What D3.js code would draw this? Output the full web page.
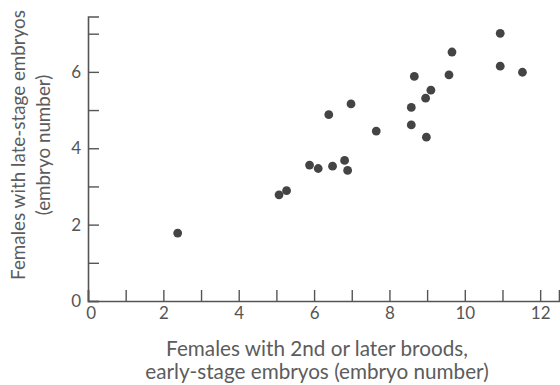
<!DOCTYPE html>
<html>
<head>
<meta charset="utf-8">
<script src="https://cdn.jsdelivr.net/npm/d3@7"></script>
<style>
  body { margin: 0; background: #fff; }
  text { font-family: Lato, "Open Sans", sans-serif; fill: #555; }
</style>
</head>
<body>
<script>
// early-stage embryos (x) vs late-stage embryos (y)
const earlyEmbryos = [2.38, 5.07, 5.27, 5.88, 6.11, 6.49, 6.81, 6.89, 6.39, 6.98, 7.65,
                      8.58, 8.58, 8.98, 8.66, 8.96, 9.10, 9.58, 9.66, 10.94, 10.94, 11.53];
const lateEmbryos  = [1.78, 2.78, 2.89, 3.56, 3.47, 3.53, 3.68, 3.42, 4.88, 5.16, 4.45,
                      5.07, 4.61, 4.29, 5.88, 5.31, 5.52, 5.92, 6.52, 7.01, 6.15, 5.99];
const xTicks = [0, 1, 2, 3, 4, 5, 6, 7, 8, 9, 10, 11, 12];
const yTicks = [0, 1, 2, 3, 4, 5, 6, 7];
const xTitle = ["Females with 2nd or later broods,", "early-stage embryos (embryo number)"];
const yTitle = ["Females with late-stage embryos", "(embryo number)"];

const width = 560, height = 385;
const points = earlyEmbryos.map((x, i) => ({ x: x, y: lateEmbryos[i] }));

const svg = d3.select("body")
              .append("svg")
              .attr("width", width)
              .attr("height", height);

const xScale = d3.scaleLinear().domain([0, 12.5]).range([88, 559]);
const yScale = d3.scaleLinear().domain([0, 7.45]).range([301, 16.5]);

const evenOnly = d => d % 2 === 0 ? d : "";

const xAxis = d3.axisBottom(xScale)
                .tickValues(xTicks)
                .tickSize(-11)
                .tickPadding(6)
                .tickFormat(evenOnly);
const yAxis = d3.axisLeft(yScale)
                .tickValues(yTicks)
                .tickSize(-11)
                .tickPadding(7)
                .tickFormat(evenOnly);

const gx = svg.append("g")
              .attr("transform", "translate(0," + yScale(0) + ")")
              .call(xAxis);
const gy = svg.append("g")
              .attr("transform", "translate(" + xScale(0) + ",0)")
              .call(yAxis);

[gx, gy].forEach(g => {
    g.select(".domain").attr("stroke", "#555").attr("stroke-width", 1.6);
    g.selectAll(".tick line").attr("stroke", "#555").attr("stroke-width", 1.4);
    g.selectAll(".tick text")
     .style("font-family", "Lato, 'Open Sans', sans-serif")
     .style("font-size", "17px")
     .attr("fill", "#555");
});
gx.select(".tick text").attr("dx", "0.15em");

svg.selectAll("circle")
   .data(points)
   .enter()
   .append("circle")
   .attr("cx", d => xScale(d.x))
   .attr("cy", d => yScale(d.y))
   .attr("r", 4.4)
   .style("fill", "#444");

// scale a two-line title so its first line spans the same length as in the picture
function fitTitle(text, target) {
    text.style("font-size", "16px");
    const len = text.select("tspan").node().getComputedTextLength();
    text.style("font-size", (16 * target / len).toFixed(2) + "px");
}

const xt = svg.append("text")
   .attr("text-anchor", "middle")
   .style("fill", "#5c5c5c");
xt.selectAll("tspan")
  .data(xTitle)
  .enter()
  .append("tspan")
  .attr("x", 317)
  .attr("y", (d, i) => 356 + i * 23)
  .text(d => d);
fitTitle(xt, 302);

const yt = svg.append("text")
   .attr("text-anchor", "middle")
   .style("fill", "#5c5c5c")
   .attr("transform", "translate(0,145) rotate(-90)");
yt.selectAll("tspan")
  .data(yTitle)
  .enter()
  .append("tspan")
  .attr("x", 0)
  .attr("y", (d, i) => 25 + i * 25)
  .text(d => d);
fitTitle(yt, 270);
</script>
</body>
</html>
